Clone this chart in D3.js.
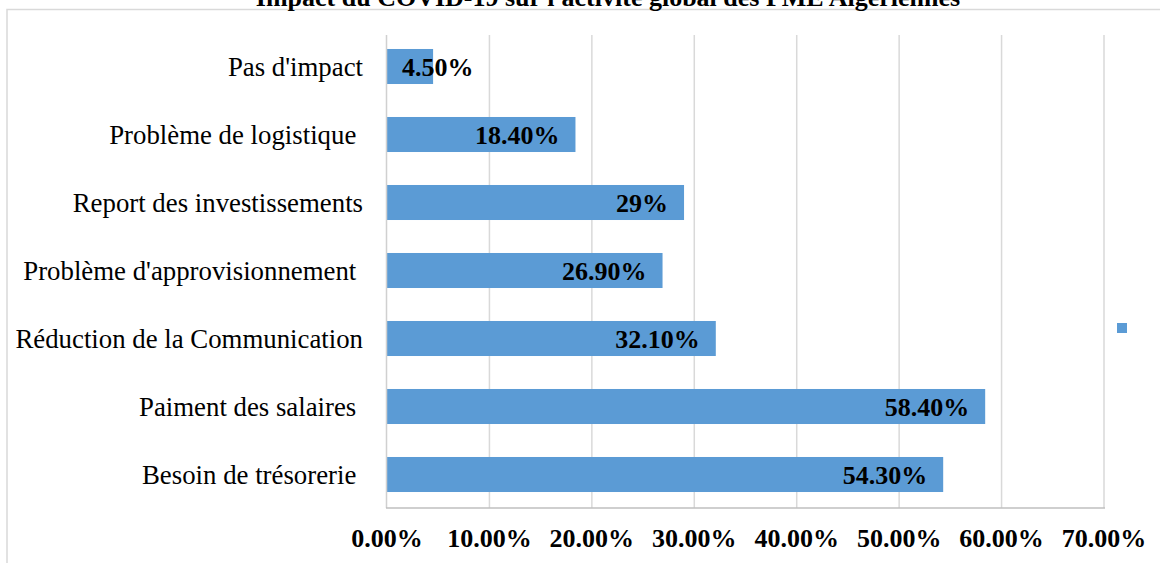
<!DOCTYPE html>
<meta charset="utf-8">
<style>
body { margin: 0; background: #fff; }
text { font-family: "Liberation Serif", "Times New Roman", serif; fill: #000; }
.cat text { font-size: 26.8px; white-space: pre; }
.vals text, .ticks text, .title { font-size: 26px; font-weight: bold; }
.grid line { stroke: #d9d9d9; stroke-width: 1.5px; }
</style>
<svg width="1160" height="563"></svg>
<script src="https://d3js.org/d3.v7.min.js"></script>
<script>

var categories = ["Pas d'impact", "Problème de logistique ", "Report des investissements",
                  "Problème d'approvisionnement ", "Réduction de la Communication",
                  "Paiment des salaires ", "Besoin de trésorerie "];
var values = [0.045, 0.184, 0.29, 0.269, 0.321, 0.584, 0.543];
var valueLabels = ["4.50%", "18.40%", "29%", "26.90%", "32.10%", "58.40%", "54.30%"];
var tickValues = [0, 0.1, 0.2, 0.3, 0.4, 0.5, 0.6, 0.7];

var svg = d3.select("svg");
var blue = "#5b9bd5";

// chart border (runs off the right and bottom of the picture)
svg.append("rect")
    .attr("x", 7).attr("y", 9.5)
    .attr("width", 1200).attr("height", 600)
    .attr("fill", "none").attr("stroke", "#d9d9d9").attr("stroke-width", 1.5);

// title, cropped at the top as in the source picture
svg.append("text")
    .attr("class", "title")
    .attr("x", 608).attr("y", 6)
    .attr("text-anchor", "middle")
    .text("Impact du COVID-19 sur l'activité global des PME Algériennes");

var x = d3.scaleLinear().domain([0, 0.7]).range([387, 1104]);
var y = d3.scaleBand().domain(categories).range([32.5, 508.5])
    .paddingInner(0.485).paddingOuter(0.2425);

// gridlines
svg.append("g").attr("class", "grid")
  .selectAll("line")
  .data(tickValues.slice(1))
  .enter().append("line")
    .attr("x1", function(d) { return x(d); })
    .attr("x2", function(d) { return x(d); })
    .attr("y1", 35).attr("y2", 508);

// bars
svg.append("g")
  .selectAll("rect")
  .data(values)
  .enter().append("rect")
    .attr("x", x(0))
    .attr("y", function(d, i) { return y(categories[i]); })
    .attr("width", function(d) { return x(d) - x(0); })
    .attr("height", y.bandwidth())
    .attr("fill", blue);

// axes lines
svg.append("line")
    .attr("x1", x(0) - 0.5).attr("x2", x(0) - 0.5)
    .attr("y1", 35).attr("y2", 508)
    .attr("stroke", "#d0d0d0").attr("stroke-width", 1.5);
svg.append("line")
    .attr("x1", x(0) - 1).attr("x2", x(0.7) + 1)
    .attr("y1", 508).attr("y2", 508)
    .attr("stroke", "#bfbfbf").attr("stroke-width", 1.5);

// category labels
svg.append("g").attr("class", "cat")
  .selectAll("text")
  .data(categories)
  .enter().append("text")
    .attr("x", 363)
    .attr("y", function(d) { return y(d) + y.bandwidth() / 2 + 9; })
    .attr("text-anchor", "end")
    .text(function(d) { return d; });

// value labels, inside end; pushed right when the bar is too short
svg.append("g").attr("class", "vals")
  .selectAll("text")
  .data(values)
  .enter().append("text")
    .attr("y", function(d, i) { return y(categories[i]) + y.bandwidth() / 2 + 9.5; })
    .text(function(d, i) { return valueLabels[i]; })
    .each(function(d) {
      var w = this.getComputedTextLength();
      var left = x(d) - 16 - w;
      if (left < x(0) + 15) left = x(0) + 15;
      d3.select(this).attr("x", left);
    });

// tick labels
svg.append("g").attr("class", "ticks")
  .selectAll("text")
  .data(tickValues)
  .enter().append("text")
    .attr("x", function(d) { return x(d); })
    .attr("y", 547)
    .attr("text-anchor", "middle")
    .text(function(d) { return d3.format(".2%")(d); });

// legend marker
svg.append("rect")
    .attr("x", 1117).attr("y", 323)
    .attr("width", 10).attr("height", 10)
    .attr("fill", blue);

</script>
